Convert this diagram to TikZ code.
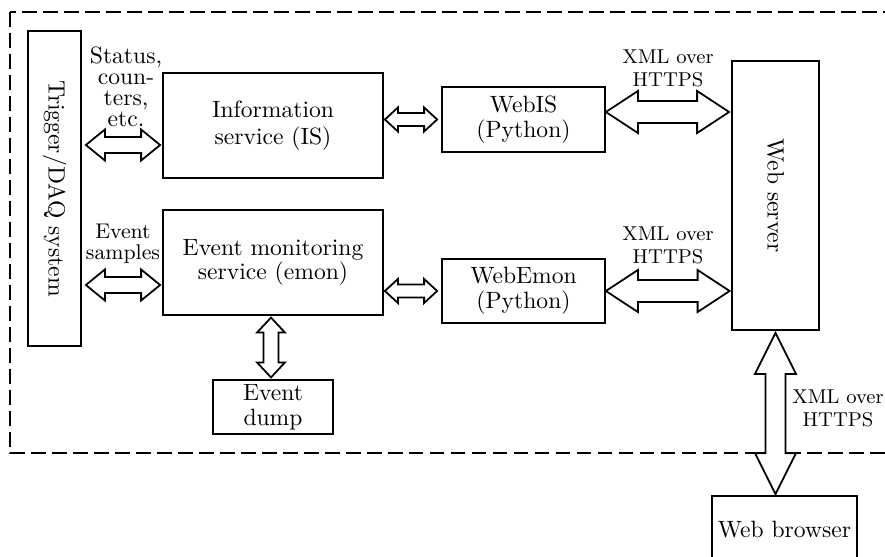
\documentclass[tikz,border=0pt]{standalone}
\usepackage{graphicx}
\usetikzlibrary{calc}
\def\px{0.424pt}
\newcommand\mkharrow[5]{%
  \draw[dblarr] (#1) -- ($(#1)+(#5,-#4)$) -- ($(#1)+(#5,-#3)$) -- ($(#2)+(-#5,-#3)$) -- ($(#2)+(-#5,-#4)$) -- (#2)
   -- ($(#2)+(-#5,#4)$) -- ($(#2)+(-#5,#3)$) -- ($(#1)+(#5,#3)$) -- ($(#1)+(#5,#4)$) -- cycle;}
\newcommand\mkvarrow[5]{%
  \draw[dblarr] (#1) -- ($(#1)+(#4,#5)$) -- ($(#1)+(#3,#5)$) -- ($(#2)+(#3,-#5)$) -- ($(#2)+(#4,-#5)$) -- (#2)
   -- ($(#2)+(-#4,-#5)$) -- ($(#2)+(-#3,-#5)$) -- ($(#1)+(-#3,#5)$) -- ($(#1)+(-#4,#5)$) -- cycle;}
\tikzset{
  box/.style={draw, line width=0.75pt, fill=white, inner sep=0pt, align=center,
              font=\fontsize{10}{10.5}\selectfont},
  dblarr/.style={draw, fill=white, line width=0.75pt, line join=miter},
  lbl/.style={anchor=north, inner sep=0pt, align=center},
  frame/.style={draw, line width=0.75pt, dash pattern=on 6.3pt off 2.6pt}
}
\begin{document}
\begin{tikzpicture}[x=\px, y=-\px]
\useasboundingbox (0,0) rectangle (885,556);
% dashed frame
\draw[frame] (10,12) rectangle (905,453);
% boxes
\node[box, minimum width=53*\px, minimum height=315*\px] (trig) at (54.5,188.5) {\rotatebox{-90}{Trigger/DAQ system}};
\node[box, minimum width=220*\px, minimum height=105*\px, font=\fontsize{10}{11.5}\selectfont] (is) at (273,125.5) {Information\\service (IS)};
\node[box, minimum width=220*\px, minimum height=105*\px] (emon) at (273,262.5) {Event monitoring\\service (emon)};
\node[box, minimum width=163*\px, minimum height=65*\px] (webis) at (523.5,119.5) {WebIS\\(Python)};
\node[box, minimum width=163*\px, minimum height=64*\px] (webemon) at (523.5,291) {WebEmon\\(Python)};
\node[box, minimum width=87*\px, minimum height=269*\px] (websrv) at (775.5,195.5) {\rotatebox{-90}{Web server}};
\node[box, minimum width=120*\px, minimum height=54*\px] (dump) at (273,407) {Event\\dump};
\node[box, minimum width=145*\px, minimum height=68*\px] (browser) at (784.5,530) {Web browser};
% reference rows
\coordinate (r1) at (0,145);
\coordinate (r2) at (0,285);
\coordinate (r3) at (0,112);
% arrow end points
\coordinate (a1s) at ($(trig.east|-r1)+(4,0)$);
\coordinate (a1e) at ($(is.west|-r1)+(-2,0)$);
\coordinate (a2s) at ($(is.east|-webis.west)+(1,0)$);
\coordinate (a2e) at ($(webis.west)+(-4,0)$);
\coordinate (a3s) at (webis.east|-r3);
\coordinate (a3e) at ($(websrv.west|-r3)+(-2,0)$);
\coordinate (a4s) at ($(trig.east|-r2)+(4,0)$);
\coordinate (a4e) at ($(emon.west|-r2)+(-2,0)$);
\coordinate (a5s) at ($(emon.east|-webemon.west)+(1,0)$);
\coordinate (a5e) at ($(webemon.west)+(-4,0)$);
\coordinate (a6s) at (webemon.east);
\coordinate (a6e) at ($(websrv.west|-webemon.east)+(-1.5,0)$);
\coordinate (a7s) at ($(emon.south)+(-2,1.7)$);
\coordinate (a7e) at ($(dump.north)+(-2,-1.7)$);
\coordinate (a8s) at ($(websrv.south)+(0,2)$);
\coordinate (a8e) at ($(a8s|-browser.north)+(0,-1)$);
% double arrows
\mkharrow{a1s}{a1e}{8}{15.5}{19}
\mkharrow{a4s}{a4e}{8}{15.5}{19}
\mkharrow{a2s}{a2e}{6.5}{12}{13}
\mkharrow{a5s}{a5e}{6.5}{12}{13}
\mkharrow{a3s}{a3e}{11}{21}{32}
\mkharrow{a6s}{a6e}{11}{21}{32}
\mkvarrow{a7s}{a7e}{7.5}{14}{15}
\mkvarrow{a8s}{a8e}{10}{20.5}{41}
% labels
\node[lbl, font=\fontsize{10}{8.9}\selectfont] (lstat) at (126,46.5) {Status,\\coun-\\ters,\\etc.};
\node[lbl, font=\fontsize{9}{8.9}\selectfont] (lsamp) at (123,223.5) {Event\\samples};
\node[lbl, font=\fontsize{8.5}{9.8}\selectfont] (lx1) at (668,49) {XML over\\HTTPS};
\node[lbl, font=\fontsize{8.5}{9.8}\selectfont] (lx2) at (668,226) {XML over\\HTTPS};
\node[lbl, font=\fontsize{8.5}{9.8}\selectfont] (lx3) at (838,389) {XML over\\HTTPS};
\end{tikzpicture}
\end{document}
